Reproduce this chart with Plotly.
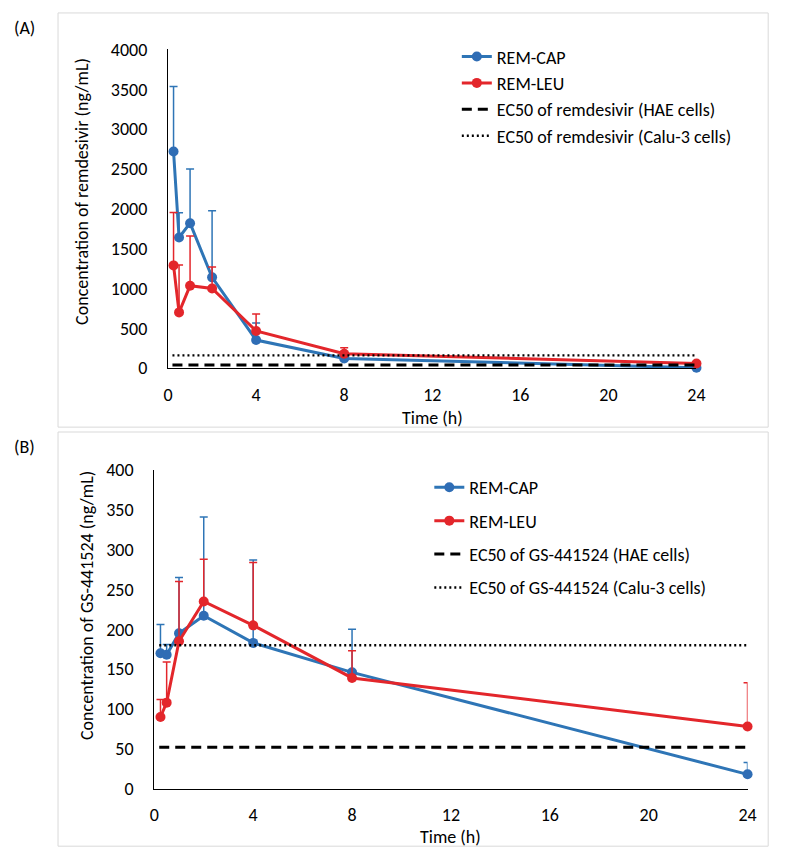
import plotly.graph_objects as go

# ---------------- data ----------------
time_h = [0.25, 0.5, 1, 2, 4, 8, 24]

# Panel A: remdesivir
remA_cap = [2720, 1640, 1820, 1140, 353, 122, 5]
remA_cap_err = [815, 310, 680, 835, 215, 30, 10]
remA_leu = [1290, 700, 1035, 1000, 467, 181, 59]
remA_leu_err = [665, 595, 625, 270, 212, 74, 10]
ec50_rem_hae = 40
ec50_rem_calu = 160

# Panel B: GS-441524
gsB_cap = [170, 168, 195, 217, 183, 146, 18]
gsB_cap_err = [36, 13, 70, 124, 104, 54, 15]
gsB_leu = [90, 108, 185, 235, 205, 139, 78]
gsB_leu_err = [22, 51, 75, 53, 79, 34, 55]
ec50_gs_hae = 52
ec50_gs_calu = 180

ec50_x = [0.2, 24]
x_ticks = [0, 4, 8, 12, 16, 20, 24]

# ---------------- style ----------------
W, H = 787, 864
BLUE = "#2E75B6"
BLUE_M = "#2F6DB5"
RED = "#E3262B"
FONT = "Carlito, Lato, sans-serif"
FS = 18

def px_x(p):
    return p / W

def px_y(p):
    return 1 - p / H

fig = go.Figure()

def add_series(xa, ya, y, err, name, color, mcolor, legend, group):
    fig.add_trace(go.Scatter(
        x=time_h, y=y, name=name, mode="lines+markers",
        xaxis=xa, yaxis=ya, legend=legend, legendgroup=group,
        line=dict(color=color, width=3),
        marker=dict(color=mcolor, size=10),
        error_y=dict(type="data", symmetric=False, array=err,
                     arrayminus=[0] * len(err), color=color,
                     thickness=1.5, width=4),
        cliponaxis=False,
    ))

def add_ec50(xa, ya, val, name, dash, width, legend, group):
    fig.add_trace(go.Scatter(
        x=ec50_x, y=[val, val], name=name, mode="lines",
        xaxis=xa, yaxis=ya, legend=legend, legendgroup=group,
        line=dict(color="black", width=width, dash=dash),
        cliponaxis=False,
    ))

DASH = "10px,6px"
DOT = "2px,3px"

# Panel A
add_series("x", "y", remA_cap, remA_cap_err, "REM-CAP", BLUE, BLUE_M, "legend", "a1")
add_series("x", "y", remA_leu, remA_leu_err, "REM-LEU", RED, RED, "legend", "a2")
add_ec50("x", "y", ec50_rem_hae, "EC50 of remdesivir (HAE cells)", DASH, 3, "legend", "a3")
add_ec50("x", "y", ec50_rem_calu, "EC50 of remdesivir (Calu-3 cells)", DOT, 2.4, "legend", "a4")

# Panel B
add_series("x2", "y2", gsB_cap, gsB_cap_err, "REM-CAP", BLUE, BLUE_M, "legend2", "b1")
add_series("x2", "y2", gsB_leu, gsB_leu_err, "REM-LEU", RED, RED, "legend2", "b2")
add_ec50("x2", "y2", ec50_gs_hae, "EC50 of GS-441524 (HAE cells)", DASH, 3, "legend2", "b3")
add_ec50("x2", "y2", ec50_gs_calu, "EC50 of GS-441524 (Calu-3 cells)", DOT, 2.4, "legend2", "b4")

axis_common = dict(showgrid=False, zeroline=False, showline=True,
                   linecolor="black", linewidth=1.3, ticks="",
                   tickfont=dict(family=FONT, size=FS, color="black"))

def ann(text, x, y, angle=0, size=FS):
    return dict(text=text, x=px_x(x), y=px_y(y), xref="paper", yref="paper",
                xanchor="center", yanchor="middle", textangle=angle,
                showarrow=False, font=dict(family=FONT, size=size, color="black"))

fig.update_layout(
    width=W, height=H,
    margin=dict(l=0, r=0, t=0, b=0),
    paper_bgcolor="white", plot_bgcolor="white",
    font=dict(family=FONT, size=FS, color="black"),
    showlegend=True,
    xaxis=dict(domain=[px_x(166), px_x(704)], range=[0, 24], tickvals=x_ticks,
               anchor="y", ticklabelstandoff=10, **axis_common),
    yaxis=dict(domain=[px_y(366.5), px_y(39.5)], range=[0, 4000], dtick=500,
               anchor="x", ticklabelstandoff=16, **axis_common),
    xaxis2=dict(domain=[px_x(152), px_x(756)], range=[0, 24], tickvals=x_ticks,
                anchor="y2", ticklabelstandoff=10, **axis_common),
    yaxis2=dict(domain=[px_y(798), px_y(471)], range=[0, 400], dtick=50,
                anchor="x2", ticklabelstandoff=16, **axis_common),
    legend=dict(x=px_x(460), y=px_y(28), xanchor="left", yanchor="top",
                traceorder="grouped", tracegroupgap=0,
                font=dict(family=FONT, size=FS, color="black"),
                bgcolor="rgba(0,0,0,0)"),
    legend2=dict(x=px_x(432), y=px_y(470), xanchor="left", yanchor="top",
                 traceorder="grouped", tracegroupgap=7,
                 font=dict(family=FONT, size=FS, color="black"),
                 bgcolor="rgba(0,0,0,0)"),
    shapes=[
        dict(type="rect", xref="paper", yref="paper",
             x0=px_x(54), x1=px_x(777), y0=px_y(427), y1=px_y(2),
             line=dict(color="#D9D9D9", width=1)),
        dict(type="rect", xref="paper", yref="paper",
             x0=px_x(54), x1=px_x(777), y0=px_y(857), y1=px_y(432),
             line=dict(color="#D9D9D9", width=1)),
    ],
    annotations=[
        ann("(A)", 20, 17),
        ann("(B)", 20, 447),
        ann("Concentration of remdesivir (ng/mL)", 79, 185, angle=-90),
        ann("Concentration of GS-441524 (ng/mL)", 84, 610, angle=-90),
        ann("Time (h)", 435, 418),
        ann("Time (h)", 454, 848),
    ],
)

fig.write_html("out.html", config={"displayModeBar": False},
               post_script="document.body.style.margin='0px';")
